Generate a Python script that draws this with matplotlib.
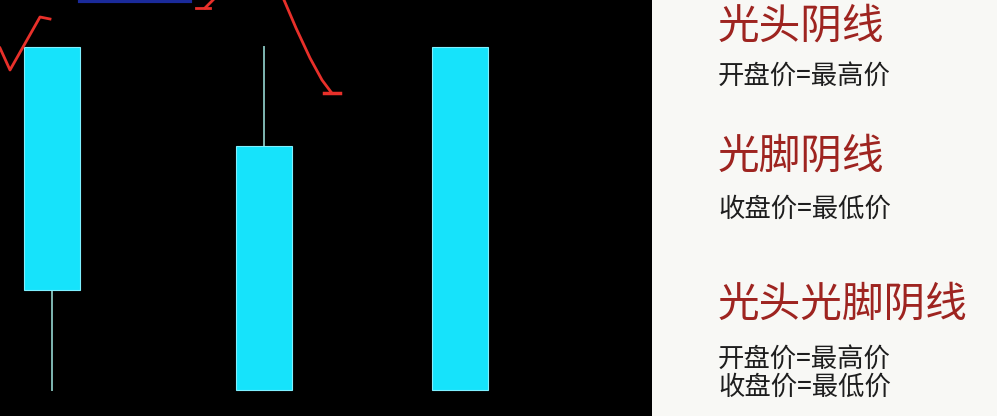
import matplotlib
matplotlib.use("Agg")
import matplotlib.pyplot as plt
from matplotlib.patches import Rectangle

plt.rcParams['font.family'] = ['Noto Sans CJK SC', 'DejaVu Sans']

# three bearish candles (price scale 0..100)
xs = [0, 1, 1.925]
opens = [100, 71, 100]
closes = [29, 0, 0]
highs = [100, 100, 100]
lows = [0, 0, 0]

titles = ['光头阴线', '光脚阴线', '光头光脚阴线']
notes = ['开盘价=最高价', '收盘价=最低价', '开盘价=最高价\n收盘价=最低价']

W, H = 997, 416
fig = plt.figure(figsize=(W / 100, H / 100), dpi=100)
fig.patch.set_facecolor('#f8f8f5')

ax = fig.add_axes([0, 0, 652 / W, 1])
ax.set_facecolor('black')
width = 0.264
for x, o, c, h, l in zip(xs, opens, closes, highs, lows):
    top, bot = max(o, c), min(o, c)
    if h > top:
        ax.plot([x, x], [top, h], color='#7fb8b2', lw=1.4, zorder=1)
    if l < bot:
        ax.plot([x, x], [l, bot], color='#7fb8b2', lw=1.4, zorder=1)
    ax.add_patch(Rectangle((x - width / 2, bot), width, top - bot,
                           facecolor='#16e3fb', edgecolor='#7ff0ff', lw=0.8, zorder=2))
ax.set_xlim(-0.245, 2.83)
ax.set_ylim(-7.6, 113.7)
ax.set_xticks([])
ax.set_yticks([])
for s in ax.spines.values():
    s.set_visible(False)

# hand-drawn red marks over the video frame (pixel coords)
ov = fig.add_axes([0, 0, 652 / W, 1])
ov.set_xlim(0, 652)
ov.set_ylim(H, 0)
ov.axis('off')
ov.plot([0, 10, 40, 50], [48, 70, 17, 19], color='#e8302a', lw=2)
ov.plot([196, 210], [8, 8], color='#e8302a', lw=2)
ov.plot([205, 213], [8, 0], color='#e8302a', lw=2)
ov.plot([284, 296, 310, 322, 331], [0, 28, 58, 80, 92], color='#e8302a', lw=2)
ov.plot([324, 340], [93, 93], color='#e8302a', lw=2.5)
ov.plot([80, 190], [1, 1], color='#1a2a9a', lw=3)

# right-hand text panel
title_y = [27, 157, 305]
note_y = [76, 209, 373]
for t, ty, n, ny in zip(titles, title_y, notes, note_y):
    fig.text(718 / W, 1 - ty / H, t, color='#9e2420', fontsize=30,
             ha='left', va='center')
    fig.text(718 / W, 1 - ny / H, n, color='#1e1e1e', fontsize=19,
             ha='left', va='center', linespacing=1.05, weight='medium')

fig.savefig('out.png', dpi=100, facecolor=fig.get_facecolor())
